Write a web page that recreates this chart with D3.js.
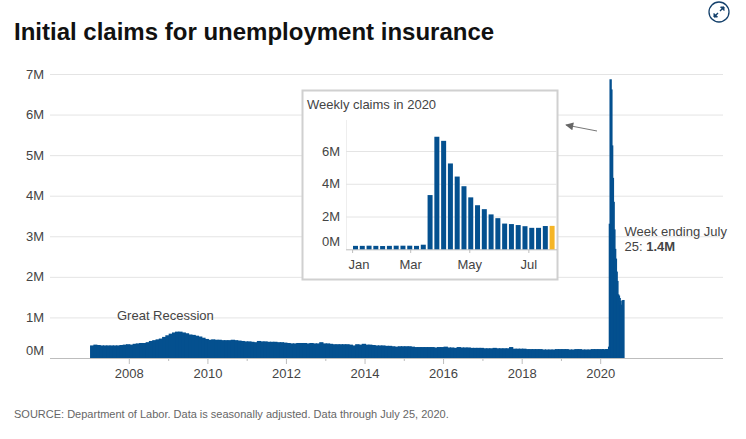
<!DOCTYPE html>
<html><head><meta charset="utf-8">
<script src="https://cdn.jsdelivr.net/npm/d3@7"></script>
<style>
html,body{margin:0;padding:0;background:#fff}
text{font-family:"Liberation Sans",Arial,sans-serif}
</style></head><body><svg id="c" width="746" height="439"></svg>
<script>
const title="Initial claims for unemployment insurance";
const source="SOURCE: Department of Labor. Data is seasonally adjusted. Data through July 25, 2020.";
const insetTitle="Weekly claims in 2020";
const mainTicksY=[0,1,2,3,4,5,6,7];
const mainYears=[2008,2010,2012,2014,2016,2018,2020];
const minorYears=[2009,2011,2013,2015,2017,2019];
const insetTicksY=[0,2,4,6];
const insetMonths=[["Jan",0],["Mar",2],["May",4],["Jul",6]];
// Monthly readings Jan 2007 - Dec 2019 (millions)
const y2007=[.31,.33,.32,.31,.31,.31,.31,.31,.31,.32,.33,.34];
const y2008=[.33,.35,.36,.37,.37,.39,.42,.44,.46,.48,.52,.56];
const y2009=[.60,.63,.65,.65,.63,.61,.58,.57,.55,.53,.50,.47];
const y2010=[.45,.46,.45,.45,.44,.44,.44,.45,.44,.43,.42,.41];
const y2011=[.41,.40,.39,.42,.41,.41,.40,.40,.40,.39,.39,.38];
const y2012=[.37,.36,.36,.37,.37,.37,.36,.37,.36,.36,.39,.36];
const y2013=[.36,.35,.34,.34,.34,.34,.34,.33,.31,.34,.33,.35];
const y2014=[.33,.33,.32,.31,.31,.31,.30,.30,.29,.28,.29,.29];
const y2015=[.29,.29,.28,.27,.27,.27,.27,.27,.27,.26,.27,.27];
const y2016=[.28,.26,.26,.25,.27,.26,.26,.26,.25,.25,.25,.25];
const y2017=[.24,.24,.24,.25,.24,.24,.24,.24,.27,.23,.23,.23];
const y2018=[.23,.22,.22,.22,.22,.22,.21,.21,.21,.21,.22,.22];
const y2019=[.22,.22,.21,.21,.22,.22,.21,.21,.21,.22,.22,.22];
const monthly=[y2007,y2008,y2009,y2010,y2011,y2012,y2013,y2014,y2015,y2016,y2017,y2018,y2019];
// Weekly readings 2020, week ending Jan 4 ... Jul 25 (millions)
const weekly2020=[.21,.21,.22,.21,.20,.21,.22,.22,.22,.21,.28,3.31,6.87,6.62,5.24,4.44,3.85,3.17,2.69,2.45,2.13,1.90,1.57,1.54,1.48,1.41,1.31,1.31,1.42,1.43];

const BLUE="#04508f",GOLD="#f5b526",TXT="#444",GRID="#e4e4e4",AX="#bdbdbd";
const svg=d3.select("#c");
const week=i=>d3.timeDay.offset(new Date(2020,0,4),7*i);
const monthlyData=monthly.flatMap((vals,yi)=>vals.map((v,m)=>({d0:new Date(2007+yi,m,1),d1:new Date(2007+yi,m+1,1),v,lap:1})));
const weeklyData=weekly2020.map((v,i)=>({d0:week(i),d1:d3.timeDay.offset(week(i),7),v,i,lap:1.6}));

// main chart
const x=d3.scaleTime().domain([new Date(2008,0,1),new Date(2020,0,1)]).range([129.3,600.7]);
const y=d3.scaleLinear().domain([0,7]).range([358,74]);
const g=svg.append("g");
g.selectAll("line.grid").data(mainTicksY).join("line")
 .attr("x1",50).attr("x2",723).attr("y1",d=>y(d)+.5).attr("y2",d=>y(d)+.5)
 .attr("stroke",d=>d===0?AX:GRID);
g.selectAll("text.yl").data(mainTicksY).join("text")
 .attr("x",44).attr("text-anchor","end").attr("y",d=>y(d)+(d===0?-3.5:4.5))
 .attr("font-size",13).attr("fill",TXT).text(d=>d+"M");
g.selectAll("line.t").data(mainYears).join("line")
 .attr("x1",d=>x(new Date(d,0,1))).attr("x2",d=>x(new Date(d,0,1)))
 .attr("y1",358).attr("y2",364).attr("stroke",AX);
g.selectAll("line.m").data(minorYears).join("line")
 .attr("x1",d=>x(new Date(d,0,1))).attr("x2",d=>x(new Date(d,0,1)))
 .attr("y1",358).attr("y2",361).attr("stroke",AX);
g.selectAll("text.xl").data(mainYears).join("text")
 .attr("x",d=>x(new Date(d,0,1))).attr("y",378).attr("text-anchor","middle")
 .attr("font-size",13).attr("fill",TXT).text(d=>d);
g.selectAll("rect.a").data(monthlyData.concat(weeklyData)).join("rect")
 .attr("x",d=>x(d.d0)-(d.lap>1?.6:0)).attr("width",d=>x(d.d1)-x(d.d0)+d.lap)
 .attr("y",d=>y(d.v)).attr("height",d=>358-y(d.v)).attr("fill",BLUE);

g.append("text").attr("x",117).attr("y",320).attr("font-size",13).attr("fill",TXT).text("Great Recession");
g.append("text").attr("x",624.5).attr("y",236).attr("font-size",13).attr("fill",TXT).text("Week ending July");
const l2=g.append("text").attr("x",624.5).attr("y",251).attr("font-size",13).attr("fill",TXT);
l2.append("tspan").text("25: ");
l2.append("tspan").attr("font-weight","bold").text("1.4M");

// title / source
svg.append("text").attr("x",14).attr("y",40).attr("font-size",24).attr("font-weight","bold").attr("fill","#111").text(title);
svg.append("text").attr("x",14).attr("y",418).attr("font-size",11).attr("fill","#666").text(source);

// inset
svg.append("rect").attr("x",302.5).attr("y",90.5).attr("width",255).attr("height",189).attr("fill","#fff").attr("stroke","#d0d0d0").attr("stroke-width",2);
svg.append("text").attr("x",307).attr("y",109).attr("font-size",13).attr("fill",TXT).text(insetTitle);
const ix=d3.scaleTime().domain([new Date(2020,0,4),new Date(2020,6,25)]).range([355.5,552.1]);
const iy=d3.scaleLinear().domain([0,6]).range([249.3,151]);
const ig=svg.append("g");
ig.append("line").attr("x1",346.5).attr("x2",346.5).attr("y1",120).attr("y2",249).attr("stroke","#eee");
ig.selectAll("line.g").data(insetTicksY).join("line")
 .attr("x1",346).attr("x2",557).attr("y1",d=>iy(d)+.5).attr("y2",d=>iy(d)+.5).attr("stroke",d=>d===0?AX:GRID);
ig.selectAll("text.y").data(insetTicksY).join("text")
 .attr("x",340).attr("text-anchor","end").attr("y",d=>iy(d)+(d===0?-3:4.5))
 .attr("font-size",13).attr("fill",TXT).text(d=>d+"M");
ig.selectAll("rect.b").data(weeklyData).join("rect")
 .attr("x",d=>ix(d.d0)-2.5).attr("width",5)
 .attr("y",d=>iy(d.v)).attr("height",d=>249.3-iy(d.v))
 .attr("fill",(d,i)=>i===weeklyData.length-1?GOLD:BLUE);
ig.selectAll("line.xt").data(insetMonths).join("line")
 .attr("x1",d=>ix(new Date(2020,d[1],1))).attr("x2",d=>ix(new Date(2020,d[1],1)))
 .attr("y1",250).attr("y2",253).attr("stroke",AX);
ig.selectAll("text.x").data(insetMonths).join("text")
 .attr("x",d=>d[1]===0?359:ix(new Date(2020,d[1],1))).attr("y",269).attr("text-anchor","middle")
 .attr("font-size",13).attr("fill",TXT).text(d=>d[0]);

// arrow
svg.append("defs").append("marker").attr("id","ah").attr("viewBox","0 0 10 10").attr("refX",9).attr("refY",5)
 .attr("markerWidth",10).attr("markerHeight",8).attr("markerUnits","userSpaceOnUse").attr("orient","auto")
 .append("path").attr("d","M0,0L10,5L0,10Z").attr("fill","#666");
svg.append("line").attr("x1",597).attr("y1",131).attr("x2",566).attr("y2",125).attr("stroke","#777").attr("stroke-width",1).attr("marker-end","url(#ah)");

// expand icon
const ic=svg.append("g").attr("transform","translate(719,12)").attr("fill","none").attr("stroke","#14406b");
ic.append("circle").attr("r",10).attr("stroke-width",1.3);
ic.append("path").attr("d","M-5,5L-1,1M1,-1L5,-5").attr("stroke-width",1.4);
ic.append("path").attr("d","M-5,1.5V5H-1.5Z M1.5,-5H5V-1.5Z").attr("fill","#14406b").attr("stroke-width",1);
</script></body></html>
